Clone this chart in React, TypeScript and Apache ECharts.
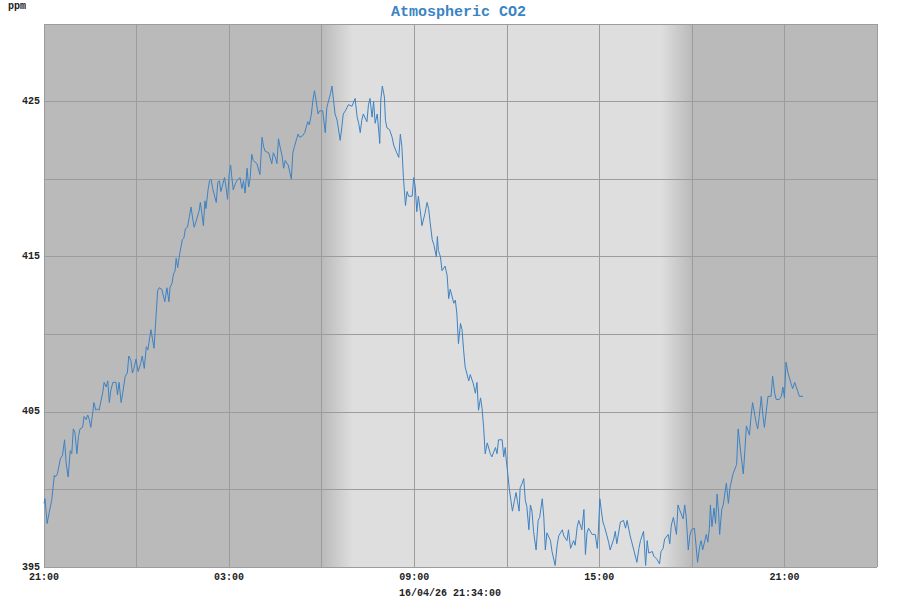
import { useEffect, useRef } from "react";
import * as echarts from "echarts";

const TITLE = "Atmospheric CO2";
const UNIT = "ppm";
const TIMESTAMP = "16/04/26 21:34:00";
const START_HOUR = 21; // axis starts at 21:00
const X_MAX_HOURS = 27;
const X_INTERVAL = 3;
const Y_MIN = 395;
const Y_MAX = 430;
const Y_INTERVAL = 5;

// minutes after 21:00 (day 1)
const minutes = [
  0, 2, 6, 10, 15, 20, 22, 26, 32, 36, 40, 43, 47, 51, 54, 57, 60, 64, 67, 70, 75, 78, 82, 85, 88, 91, 95, 97, 101, 104,
  107, 114, 117, 121, 124, 127, 130, 134, 140, 143, 146, 150, 153, 158, 162, 165, 169, 172, 175, 179, 183,
  188, 191, 195, 199, 202, 208, 214, 217, 221, 224, 229, 235, 239, 243, 245, 249, 252, 255, 257, 260,
  263, 269, 272, 275, 279, 286, 289, 292, 295, 302, 304, 307, 310, 313, 315, 319, 322, 325, 328, 335, 338, 341, 344, 351, 354, 357,
  360, 363, 365, 368, 372, 375, 381, 385, 388, 391, 395, 398, 401, 404, 407, 414, 420, 424, 427, 430,
  437, 443, 446, 450, 453, 456, 459, 463, 466, 469, 475, 481, 484, 487, 494, 497, 503, 507, 513, 516, 520, 523, 526, 529, 533, 536,
  542, 547, 550, 553, 557, 560, 563, 566, 570, 576, 579, 582, 586, 589, 592, 599, 605, 609, 612, 615,
  618, 621, 628, 631, 634, 638, 641, 644, 648, 651, 653, 655, 658, 662, 664, 667, 672, 677, 680, 686,
  690, 693, 696, 699, 703, 706, 709, 716, 719, 722, 725, 728,
  732, 735, 741, 745, 748, 751, 755, 758, 763, 765, 767, 771, 774, 780, 784, 787, 790, 797, 800, 803,
  806, 810, 813, 816, 819, 826, 829, 835, 839, 842, 845, 849, 852, 855, 858, 862, 868, 871, 878, 881, 884, 891, 894, 897, 899,
  902, 905, 908, 911, 915, 918, 921, 924, 926, 930, 933, 936, 939, 943, 946, 949, 952, 957, 961, 964,
  969, 972, 975, 978, 985, 988, 994, 998, 1001, 1008, 1011, 1017, 1020, 1024, 1030, 1033, 1037, 1040, 1046, 1050,
  1053, 1056, 1059, 1066, 1072, 1076, 1078,
  1081, 1084, 1087, 1090, 1095, 1098, 1101, 1108, 1111, 1114, 1121, 1127, 1131, 1134, 1140, 1147, 1153, 1157, 1160, 1166,
  1170, 1173, 1176, 1183, 1186, 1192, 1197, 1200, 1204, 1207, 1214, 1217, 1220, 1224, 1230, 1233, 1236, 1243, 1246, 1249,
  1253, 1256, 1259,
  1265, 1271, 1275, 1278, 1281, 1288, 1291, 1294, 1296, 1299, 1303, 1306, 1309, 1312, 1314, 1318, 1321, 1327, 1331, 1334,
  1340, 1347, 1350, 1353, 1356, 1360, 1363, 1366, 1372, 1375, 1378, 1385, 1388, 1391, 1395, 1398, 1401, 1408, 1414, 1417,
  1421, 1424, 1430, 1434, 1437, 1440, 1443, 1447, 1453, 1456, 1460, 1466, 1469, 1476,
];

// CO2 in ppm
const co2 = [
  399.1, 399.4, 397.8, 398.5, 399.3, 400.9, 400.8, 401.0, 402.0, 402.2, 403.2, 401.7, 400.8, 402.5, 402.3, 403.9, 403.7, 402.3, 403.4, 403.9,
  404.0, 404.7, 404.5, 404.8, 404.5, 404.0, 405.0, 405.6, 405.1, 405.2, 405.1, 406.2, 406.9, 406.6, 407.0, 405.6, 406.4, 406.9, 406.9, 406.1,
  406.9, 405.6, 406.2, 407.3, 407.5, 408.6, 408.3, 407.5, 407.8, 408.4, 407.6,
  408.1, 408.6, 407.8, 409.2, 409.0, 410.3, 409.1, 410.7, 412.8, 413.0, 412.9, 412.1, 413.0, 412.1, 413.0, 413.3, 413.9, 414.1, 414.9, 414.3,
  415.0, 416.1, 416.2, 416.8, 416.9, 418.2, 417.5, 416.9, 417.2, 418.0, 418.5, 417.8, 417.0, 418.6, 418.1, 419.3, 419.9, 420.0, 419.4, 418.5,
  419.8, 419.9, 419.2, 420.1, 419.5, 418.7,
  420.3, 420.9, 420.2, 419.3, 419.7, 419.9, 420.1, 419.4, 419.9, 419.1, 420.7, 419.5, 420.1, 421.6, 421.2, 421.0, 420.3, 422.7, 422.1, 421.8,
  421.7, 421.0, 421.7, 421.4, 421.0, 422.6, 422.1, 421.5, 420.7, 421.2, 420.9, 420.0, 421.7, 422.1, 422.9, 422.7, 422.8, 423.0, 423.7, 423.5,
  424.2, 425.1, 425.7, 425.1, 424.2, 424.4,
  424.4, 423.0, 424.6, 425.0, 425.5, 426.0, 425.1, 424.2, 423.8, 422.5, 423.3, 424.2, 424.4, 424.6, 424.8, 424.7, 425.2, 424.0, 423.6, 423.0,
  423.8, 424.2, 423.7, 424.8, 425.2, 424.0, 425.0, 423.6, 424.2, 423.1, 422.3, 425.1, 426.0, 425.3, 423.8, 423.3, 423.2, 422.7, 422.2, 421.7,
  421.4, 422.9, 422.1, 420.1, 418.3, 419.2, 418.9, 418.9, 420.1, 419.5, 417.9, 418.9,
  417.9, 417.0, 417.8, 418.5, 418.1, 417.2, 416.1, 415.8, 415.0, 416.3, 415.4, 415.0, 414.1, 414.4, 413.8, 412.3, 412.9, 412.0, 412.2, 411.3,
  409.4, 410.7, 410.3, 409.0, 407.9, 407.0, 407.4, 406.8, 406.2, 406.9, 405.1, 405.9, 405.2, 404.0, 402.3, 403.0, 402.3, 402.1, 402.7, 402.3,
  403.2, 403.2, 402.1, 402.7, 401.9,
  401.0, 400.0, 399.3, 398.6, 399.3, 399.8, 399.2, 398.6, 400.1, 400.4, 400.7, 399.3, 398.9, 397.4, 399.0, 398.6, 397.3, 396.1, 398.0, 398.2,
  399.4, 398.2, 396.1, 397.2, 396.7, 396.0, 395.1, 396.4, 397.0, 397.4, 397.0, 396.7, 397.4, 396.2, 396.7, 396.4, 397.6, 398.0, 397.4, 398.7,
  395.8, 397.2, 397.5, 397.1, 397.1, 396.2, 397.2,
  399.4, 398.6, 397.9, 397.6, 397.0, 396.6, 396.1, 396.8, 397.3, 396.5, 397.9, 398.0, 397.5, 398.0, 397.0, 396.1, 395.3, 396.2, 396.7, 397.3,
  395.1, 396.7, 395.9, 396.0, 395.7, 395.5, 395.2, 396.0, 396.2, 396.8, 397.1, 396.5, 397.7, 398.2, 397.1, 399.0, 398.7, 398.1, 399.0, 398.2,
  396.1, 397.0, 397.4,
  397.5, 395.3, 396.3, 396.7, 396.1, 397.1, 396.6, 397.5, 399.0, 397.6, 398.8, 397.8, 399.7, 398.5, 397.1, 398.7, 399.0, 400.4, 399.1, 400.1,
  401.0, 401.6, 403.9, 403.0, 402.1, 401.0, 402.5, 404.1, 403.5, 404.7, 405.6, 404.3, 403.9, 404.7, 406.0, 404.8, 404.0, 406.0, 406.0, 407.3,
  406.2, 405.8, 405.8, 406.0, 406.6, 405.9, 408.2, 407.5, 406.8, 406.5, 406.9, 406.3, 406.0, 406.0,
];

// daylight band, in hours after 21:00: from 06:00 (dawn ramp of 1 h) to 18:00 (dusk ramp of 1 h)
const dayStartHours = 9;
const dayEndHours = 21;
const rampHours = 1;

const DARK = "#bababa";
const LIGHT = "#dedede";
const GRID = "#9c9c9c";
const LINE = "#3d82c2";
const FONT = "Liberation Mono";

export default function App() {
  const ref = useRef<HTMLDivElement>(null);

  useEffect(() => {
    if (!ref.current) return;
    const chart = echarts.init(ref.current, null, { renderer: "svg" });
    const data = minutes.map((m, i) => [m / 60, co2[i]]);
    const pad = (n: number) => (n < 10 ? "0" + n : "" + n);
    const rampFrac = rampHours / (dayEndHours - dayStartHours);

    chart.setOption({
      animation: false,
      backgroundColor: "#ffffff",
      title: {
        text: TITLE,
        left: 386,
        top: 0,
        textStyle: { fontFamily: FONT, fontSize: 15, fontWeight: "bold", color: "#3b84c4" },
      },
      grid: {
        left: 44,
        right: 23,
        top: 24,
        bottom: 33,
        show: true,
        backgroundColor: DARK,
        borderWidth: 0,
      },
      xAxis: {
        type: "value",
        min: 0,
        max: X_MAX_HOURS,
        interval: X_INTERVAL,
        z: 2,
        axisLine: { show: false },
        axisTick: { show: false },
        splitLine: { show: true, lineStyle: { color: GRID, width: 1 } },
        axisLabel: {
          margin: 5,
          fontFamily: FONT,
          fontSize: 10,
          fontWeight: "bold",
          color: "#222",
          formatter: (v: number) => (v % 6 === 0 && v < X_MAX_HOURS ? pad((START_HOUR + v) % 24) + ":00" : ""),
        },
      },
      yAxis: {
        type: "value",
        min: Y_MIN,
        max: Y_MAX,
        interval: Y_INTERVAL,
        z: 2,
        axisLine: { show: false },
        axisTick: { show: false },
        splitLine: { show: true, lineStyle: { color: GRID, width: 1 } },
        axisLabel: {
          margin: 4,
          fontFamily: FONT,
          fontSize: 10,
          fontWeight: "bold",
          color: "#222",
          formatter: (v: number) => ((v - Y_MIN) % 10 === 0 ? String(v) : ""),
        },
      },
      series: [
        {
          type: "line",
          data,
          showSymbol: false,
          z: 3,
          lineStyle: { color: LINE, width: 1 },
          markArea: {
            silent: true,
            z: 1,
            data: [
              [
                {
                  xAxis: dayStartHours,
                  itemStyle: {
                    color: new echarts.graphic.LinearGradient(0, 0, 1, 0, [
                      { offset: 0, color: DARK },
                      { offset: rampFrac, color: LIGHT },
                      { offset: 1 - rampFrac, color: LIGHT },
                      { offset: 1, color: DARK },
                    ]),
                  },
                },
                { xAxis: dayEndHours },
              ],
            ],
          },
        },
      ],
      graphic: [
        {
          type: "text",
          left: 8,
          top: 1,
          style: { text: UNIT, fontFamily: FONT, fontSize: 10, fontWeight: "bold", fill: "#222" },
        },
        {
          type: "text",
          left: "center",
          top: 588,
          style: { text: TIMESTAMP, fontFamily: FONT, fontSize: 10, fontWeight: "bold", fill: "#222" },
        },
      ],
    });

    return () => chart.dispose();
  }, []);

  return <div ref={ref} style={{ width: 900, height: 600, position: "absolute", left: 0, top: 0 }} />;
}
